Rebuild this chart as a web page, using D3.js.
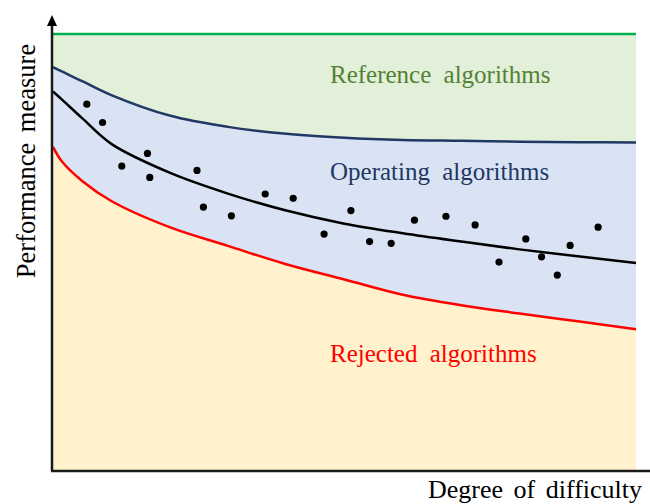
<!DOCTYPE html>
<html>
<head>
<meta charset="utf-8">
<script src="https://cdn.jsdelivr.net/npm/d3@7"></script>
<style>
body { margin: 0; background: #fff; }
text { font-family: "Liberation Serif", "Times New Roman", serif; }
</style>
</head>
<body>
<div id="chart"></div>
<script>
// difficulty grid the envelope curves are read on
var difficulty = [0, 0.15, 0.5, 1, 2, 3, 4, 5, 6, 7, 8, 9, 10];
// upper boundary of operating region (blue)
var upperBound = [9.24, 9.14, 8.92, 8.60, 8.13, 7.87, 7.71, 7.62, 7.57, 7.55, 7.53, 7.52, 7.51];
// fitted trend (black)
var trend = [8.68, 8.50, 8.07, 7.48, 6.82, 6.34, 5.95, 5.65, 5.43, 5.24, 5.06, 4.90, 4.75];
// lower boundary = rejection threshold (red)
var lowerBound = [7.41, 7.08, 6.63, 6.17, 5.57, 5.14, 4.72, 4.37, 4.02, 3.78, 3.59, 3.41, 3.23];
var referenceLevel = 10;

// observed algorithms
var pointsX = [0.58, 0.85, 1.18, 1.62, 1.66, 2.47, 2.58, 3.06, 3.64, 4.12, 4.65, 5.11,
    5.43, 5.80, 6.20, 6.74, 7.24, 7.65, 8.11, 8.38, 8.65, 8.87, 9.35];
var pointsY = [8.39, 7.97, 6.97, 7.26, 6.71, 6.87, 6.03, 5.83, 6.33, 6.23, 5.41, 5.95,
    5.24, 5.20, 5.73, 5.82, 5.62, 4.77, 5.30, 4.89, 4.47, 5.15, 5.57];

var regionLabels = ["Reference algorithms", "Operating algorithms", "Rejected algorithms"];

var width = 650, height = 504;
var margin = {top: 34, right: 14, bottom: 34, left: 53};

var svg = d3.select("#chart")
.append("svg")
.attr("width", width)
.attr("height", height);

var x = d3.scaleLinear()
.domain([0, 10])
.range([margin.left, width - margin.right]);

var y = d3.scaleLinear()
.domain([0, 10])
.range([height - margin.bottom, margin.top]);

var rows = difficulty.map(function (d, i) {
    return {x: d, up: upperBound[i], fit: trend[i], low: lowerBound[i]};
});

var smooth = d3.curveCatmullRom.alpha(0.5);

// background bands
svg.append("rect")
.attr("x", x(0))
.attr("y", y(referenceLevel))
.attr("width", x(10) - x(0))
.attr("height", y(0) - y(referenceLevel))
.style("fill", "#e2efd9");

var areaFrom = function (key) {
    return d3.area()
    .curve(smooth)
    .x(function (d) { return x(d.x); })
    .y0(y(0))
    .y1(function (d) { return y(d[key]); });
};

svg.append("path")
.datum(rows)
.attr("d", areaFrom("up"))
.style("fill", "#dae3f3");

svg.append("path")
.datum(rows)
.attr("d", areaFrom("low"))
.style("fill", "#fff2cc");

var lineFrom = function (key) {
    return d3.line()
    .curve(smooth)
    .x(function (d) { return x(d.x); })
    .y(function (d) { return y(d[key]); });
};

svg.append("line")
.attr("x1", x(0))
.attr("x2", x(10))
.attr("y1", y(referenceLevel))
.attr("y2", y(referenceLevel))
.style("stroke", "#00b050")
.style("stroke-width", 2.5);

svg.append("path")
.datum(rows)
.attr("d", lineFrom("up"))
.style("fill", "none")
.style("stroke", "#203864")
.style("stroke-width", 2.5);

svg.append("path")
.datum(rows)
.attr("d", lineFrom("low"))
.style("fill", "none")
.style("stroke", "#ff0000")
.style("stroke-width", 2.5);

svg.append("path")
.datum(rows)
.attr("d", lineFrom("fit"))
.style("fill", "none")
.style("stroke", "#000")
.style("stroke-width", 2.5);

svg.append("g")
.selectAll("circle")
.data(pointsX)
.enter()
.append("circle")
.attr("cx", function (d) { return x(d); })
.attr("cy", function (d, i) { return y(pointsY[i]); })
.attr("r", 3.6)
.style("fill", "#000");

// axes (no ticks)
var x0 = x(0) - 1, yb = y(0) + 1;
svg.append("line")
.attr("x1", x0).attr("y1", yb)
.attr("x2", x0).attr("y2", 24)
.style("stroke", "#1a1a1a")
.style("stroke-width", 2.5);
svg.append("line")
.attr("x1", x0 - 1).attr("y1", yb)
.attr("x2", width).attr("y2", yb)
.style("stroke", "#1a1a1a")
.style("stroke-width", 2.5);
svg.append("path")
.attr("d", "M" + x0 + ",15 L" + (x0 - 5) + ",26 L" + (x0 + 5) + ",26 Z")
.style("fill", "#000");

// region labels
var labelColours = ["#538135", "#203864", "#ff0000"];
var labelY = [83, 180, 362];
svg.append("g")
.selectAll("text")
.data(regionLabels)
.enter()
.append("text")
.attr("x", 330)
.attr("y", function (d, i) { return labelY[i]; })
.style("font-size", "25px")
.style("word-spacing", "6px")
.style("fill", function (d, i) { return labelColours[i]; })
.text(function (d) { return d; });

svg.append("text")
.attr("transform", "translate(35,161) rotate(-90)")
.attr("text-anchor", "middle")
.style("font-size", "26.5px")
.style("word-spacing", "4px")
.style("fill", "#000")
.text("Performance measure");

svg.append("text")
.attr("x", 428)
.attr("y", 498)
.style("font-size", "26px")
.style("word-spacing", "4px")
.style("fill", "#000")
.text("Degree of difficulty");
</script>
</body>
</html>
